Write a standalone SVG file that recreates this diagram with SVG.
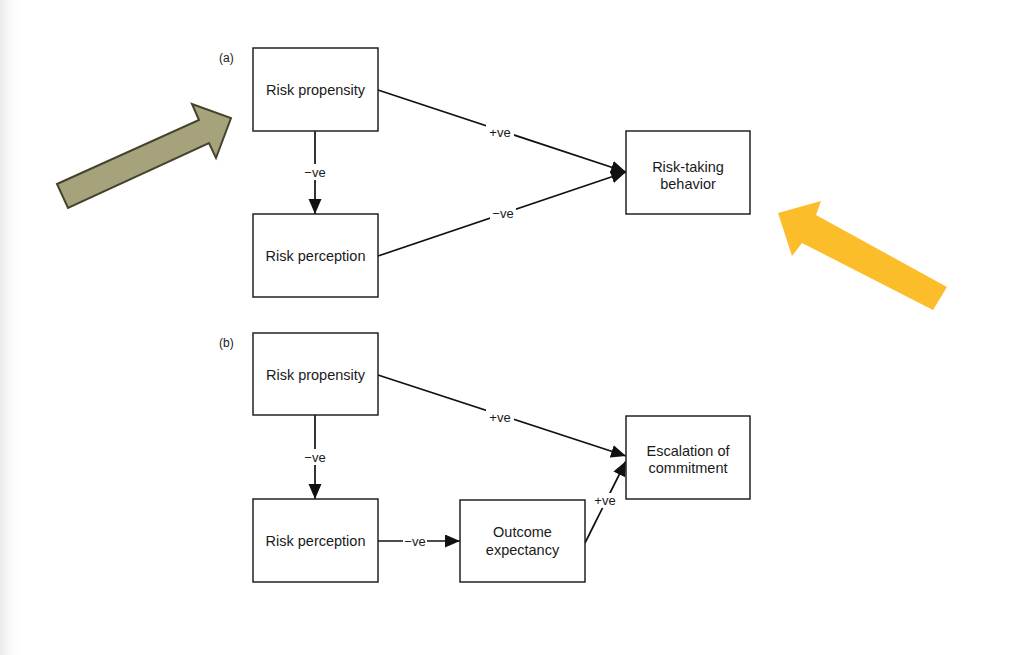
<svg xmlns="http://www.w3.org/2000/svg" width="1017" height="655" viewBox="0 0 1017 655">
<defs>
<linearGradient id="edge" x1="0" y1="0" x2="1" y2="0">
<stop offset="0" stop-color="#ebebeb"/>
<stop offset="1" stop-color="#ffffff" stop-opacity="0"/>
</linearGradient>
<marker id="ah" markerUnits="userSpaceOnUse" markerWidth="16" markerHeight="14" refX="15" refY="6.5" orient="auto">
<path d="M0,0 L15,6.5 L0,13 z" fill="#111"/>
</marker>
<style>
.box{fill:#fff;stroke:#222;stroke-width:1.5}
.t{font-family:"Liberation Sans",Arial,sans-serif;font-size:14.5px;fill:#1a1a1a;text-anchor:middle}
.lab{font-family:"Liberation Sans",Arial,sans-serif;font-size:13px;fill:#1a1a1a;text-anchor:middle}
.pl{font-family:"Liberation Sans",Arial,sans-serif;font-size:12px;fill:#1a1a1a}
.ln{stroke:#111;stroke-width:1.7;fill:none}
.lbg{fill:#fff}
</style>
</defs>
<rect width="1017" height="655" fill="#ffffff"/>
<rect width="24" height="655" fill="url(#edge)"/>

<text class="pl" x="219" y="62">(a)</text>
<text class="pl" x="219" y="347">(b)</text>

<g id="connectors">
<line class="ln" x1="315" y1="131" x2="315" y2="214" marker-end="url(#ah)"/>
<line class="ln" x1="378" y1="90" x2="626" y2="172" marker-end="url(#ah)"/>
<line class="ln" x1="378" y1="256" x2="626" y2="172" marker-end="url(#ah)"/>
<line class="ln" x1="315" y1="415" x2="315" y2="499" marker-end="url(#ah)"/>
<line class="ln" x1="378" y1="375" x2="626" y2="456" marker-end="url(#ah)"/>
<line class="ln" x1="378" y1="541" x2="460" y2="541" marker-end="url(#ah)"/>
<line class="ln" x1="585" y1="543" x2="626" y2="461" marker-end="url(#ah)"/>
<rect class="lbg" x="303" y="164" width="24" height="16"/>
<text class="lab" x="315" y="177">−ve</text>
<rect class="lbg" x="486" y="124" width="28" height="16"/>
<text class="lab" x="500" y="137">+ve</text>
<rect class="lbg" x="490" y="205" width="26" height="16"/>
<text class="lab" x="503" y="218">−ve</text>
<rect class="lbg" x="303" y="449" width="24" height="16"/>
<text class="lab" x="315" y="462">−ve</text>
<rect class="lbg" x="486" y="409" width="28" height="16"/>
<text class="lab" x="500" y="422">+ve</text>
<rect class="lbg" x="403" y="533" width="24" height="16"/>
<text class="lab" x="415" y="546">−ve</text>
<rect class="lbg" x="592" y="493" width="26" height="15"/>
<text class="lab" x="605" y="505">+ve</text>
</g>

<g id="a-risk-propensity"><rect class="box" x="253" y="48" width="125" height="83"/><text class="t" x="315.5" y="95">Risk propensity</text></g>
<g id="a-risk-perception"><rect class="box" x="253" y="214" width="125" height="83"/><text class="t" x="315.5" y="261">Risk perception</text></g>
<g id="a-risk-taking"><rect class="box" x="626" y="131" width="124" height="83"/><text class="t" x="688" y="172">Risk-taking</text><text class="t" x="688" y="189">behavior</text></g>

<g id="b-risk-propensity"><rect class="box" x="253" y="333" width="125" height="82"/><text class="t" x="315.5" y="380">Risk propensity</text></g>
<g id="b-risk-perception"><rect class="box" x="253" y="499" width="125" height="83"/><text class="t" x="315.5" y="546">Risk perception</text></g>
<g id="b-outcome"><rect class="box" x="460" y="500" width="125" height="82"/><text class="t" x="522.5" y="537">Outcome</text><text class="t" x="522.5" y="555">expectancy</text></g>
<g id="b-escalation"><rect class="box" x="626" y="416" width="124" height="83"/><text class="t" x="688" y="456">Escalation of</text><text class="t" x="688" y="473">commitment</text></g>

<g id="olive-arrow"><polygon points="57,184 199,120 192,104 231,118 216,158 209,143 68,208" fill="#a6a37c" stroke="#45432c" stroke-width="2" stroke-linejoin="miter"/></g>
<g id="yellow-arrow"><polygon points="778,213 821,201 816,215 947,287 933,310 802,243 792,256" fill="#fcbd2b"/></g>
</svg>
